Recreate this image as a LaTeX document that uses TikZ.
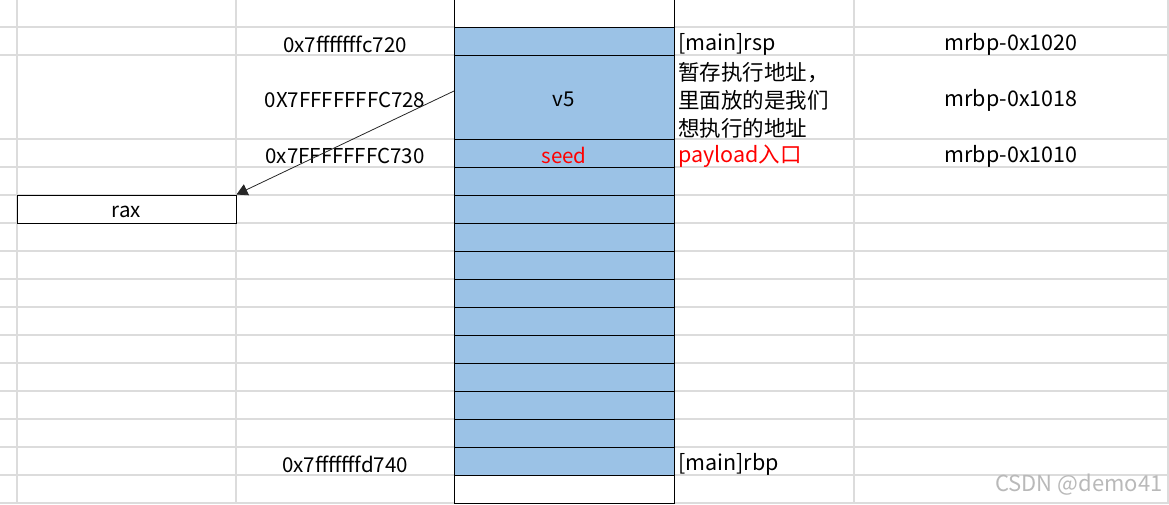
\documentclass[tikz,border=0pt]{standalone}
\usepackage{fontspec}
\setmainfont{Noto Sans CJK SC}
\usetikzlibrary{arrows.meta}
\definecolor{cellblue}{HTML}{9BC2E6}
\definecolor{gridgray}{HTML}{DCDCDC}
\definecolor{memred}{HTML}{FF0000}

\tikzset{
  cell/.style={draw=black,line width=1pt,fill=cellblue,minimum width=220pt,minimum height=28pt,inner sep=0pt},
  addr/.style={font=\fontsize{20.5}{28}\selectfont},
  offs/.style={font=\fontsize{21.5}{28}\selectfont},
  note/.style={anchor=west,inner sep=0pt,font=\fontsize{21.5}{28}\selectfont}
}

\begin{document}
\begin{tikzpicture}[x=1pt,y=-1pt,font=\fontsize{20.5}{28}\selectfont]
\useasboundingbox (0,0) rectangle (1169,504);
% sheet grid
\foreach \y in {27,55}{\draw[gridgray,line width=1.2pt] (0,\y)--(1169,\y);}
\foreach \y in {139,167,...,503}{\draw[gridgray,line width=1.2pt] (0,\y)--(1169,\y);}
\foreach \x in {17,236,854,1168}{\draw[gridgray,line width=1.2pt] (\x,0)--(\x,504);}
% stack
\node[cell,fill=white,minimum height=54pt] (top) at (564,0) {};
\node[cell] (rsp) at (564,41) {};
\node[cell,minimum height=84pt] (v5) at (564,97) {};
\node[cell,fill=none,draw=none] (v5t) at (564,99) {v5};
\node[cell] (seed) at (564,153) {};
\node[cell,fill=none,draw=none,text=memred] (seedt) at (564,155) {seed};
\foreach \i in {0,...,9}{\node[cell] (s\i) at (564,181+28*\i) {};}
\node[cell] (rbp) at (564,461) {};
\node[cell,fill=white] (bot) at (564,489) {};
% addresses
\node[addr] (a720) at (345,44) {0x7fffffffc720};
\node[addr] (a728) at (345,100) {0X7FFFFFFFC728};
\node[addr] (a730) at (345,156) {0x7FFFFFFFC730};
\node[addr] (a740) at (345,464) {0x7fffffffd740};
% notes
\node[note] (nrsp) at (678,44) {[main]rsp};
\node[note,align=left] (nv5) at (678,100) {暂存执行地址，\\里面放的是我们\\想执行的地址};
\node[note,text=memred] (nseed) at (678,156) {payload入口};
\node[note] (nrbp) at (678,464) {[main]rbp};
% offsets
\node[offs] (o1020) at (1011,44) {mrbp-0x1020};
\node[offs] (o1018) at (1011,100) {mrbp-0x1018};
\node[offs] (o1010) at (1011,156) {mrbp-0x1010};
% rax
\node[draw=black,line width=1pt,fill=white,minimum width=219pt,minimum height=28pt,inner sep=0pt] (rax) at (126.5,209) {};
\node[addr] (raxt) at (126.5,212) {rax};
\coordinate (src) at (454,91);
\draw[-{Triangle[length=11pt,width=12pt]},line width=0.8pt,black!85] (src) -- (rax.north east);
% watermark
\node[anchor=east,text=gray!55,font=\fontsize{22}{22}\selectfont] (wm) at (1166,485) {CSDN @demo41};
\end{tikzpicture}
\end{document}
